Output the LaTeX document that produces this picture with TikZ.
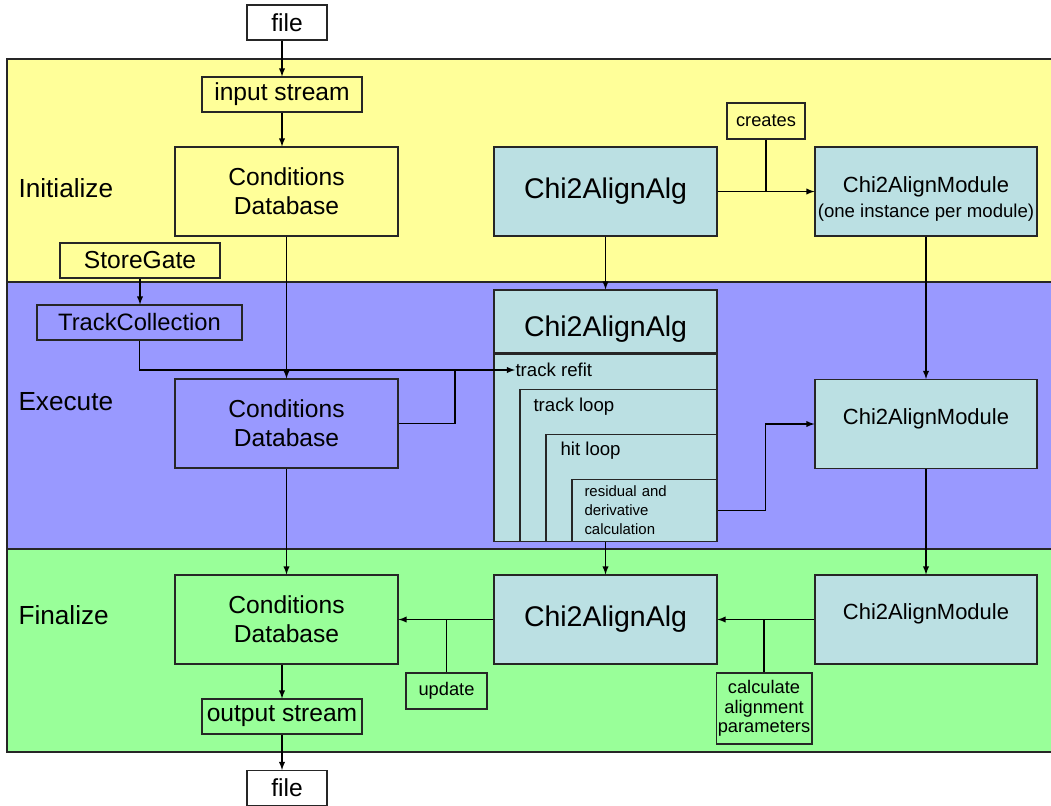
\documentclass[tikz,border=0pt]{standalone}
\usepackage{fontspec}
\setmainfont{Liberation Sans}
\usetikzlibrary{positioning}
\definecolor{initband}{HTML}{FFFF99}
\definecolor{execband}{HTML}{9999FF}
\definecolor{finband}{HTML}{99FF99}
\definecolor{algblue}{HTML}{BBE0E3}
\definecolor{edgegray}{HTML}{262626}

\begin{document}
\begin{tikzpicture}[>=latex, line width=0.6pt]
	\tikzstyle{band}=[draw=edgegray, line width=0.6pt]
	\tikzstyle{box}=[rectangle, draw=edgegray, line width=0.6pt, inner sep=1pt, align=center]
	\tikzstyle{bigbox}=[box, minimum width=4.46cm, minimum height=1.78cm,
	font=\fontsize{14}{16.4}\selectfont]
	\tikzstyle{smallbox}=[box, minimum width=3.2cm, minimum height=0.7cm,
	font=\fontsize{14}{16}\selectfont]
	\tikzstyle{notebox}=[box, font=\fontsize{10.4}{11.2}\selectfont]
	\tikzstyle{algbox}=[box, fill=algblue, minimum width=4.46cm,
	font=\fontsize{16.2}{19}\selectfont]
	\tikzstyle{modbox}=[box, fill=algblue, minimum width=4.44cm, minimum height=1.78cm,
	font=\fontsize{12.5}{14}\selectfont]
	\tikzstyle{looptext}=[anchor=west, inner sep=0pt, font=\fontsize{10.6}{12}\selectfont]
	\tikzstyle{phase}=[anchor=west, inner sep=0pt, font=\fontsize{14.9}{17}\selectfont]

	\useasboundingbox (0,0) rectangle (21.02,-16.1);
	\fill[white] (0,0) rectangle (21.02,-16.1);
	\draw[band, fill=initband] (0.14,-1.18) rectangle (21.3,-5.64);
	\draw[band, fill=execband] (0.14,-5.64) rectangle (21.3,-10.98);
	\draw[band, fill=finband] (0.14,-10.98) rectangle (21.3,-15.04);

	\node[phase] at (0.36,-3.76) (initlabel) {Initialize};
	\node[phase] at (0.36,-8.04) (execlabel) {Execute};
	\node[phase] at (0.36,-12.3) (finlabel) {Finalize};

	\node[smallbox, fill=white, minimum width=1.6cm] at (5.74,-0.45) (file1) {file};
	\node[smallbox, fill=initband] at (5.64,-1.89) (instream) {input stream};
	\node[bigbox, fill=initband] at (5.73,-3.83) (cdb1) {Conditions\\Database};
	\node[smallbox, fill=initband] at (2.8,-5.21) (storegate) {StoreGate};
	\node[algbox, minimum height=1.78cm] at (12.11,-3.83) (alg1) {Chi2AlignAlg};
	\node[notebox, fill=initband, minimum width=1.56cm, minimum height=0.72cm] at (15.32,-2.42) (creates) {creates};
	\node[modbox, text height=31.7pt] at (18.52,-3.83) (mod1) {Chi2AlignModule\\{\fontsize{10.6}{12}\selectfont(one instance per module)}};

	\node[smallbox, fill=execband, minimum width=4.1cm, font=\fontsize{13.5}{16}\selectfont] at (2.79,-6.45) (trackcoll) {TrackCollection};
	\node[bigbox, fill=execband] at (5.73,-8.47) (cdb2) {Conditions\\Database};
	\node[algbox, minimum height=1.26cm, text height=20.8pt, text depth=3.4pt] at (12.11,-6.43) (alg2) {Chi2AlignAlg};
	\node[box, fill=algblue, minimum width=4.46cm, minimum height=3.74cm, anchor=north] at (alg2.south) (alg2body) {};
	\node[looptext] at (10.3,-7.4) (refit) {track refit};
	\node[box, fill=algblue, minimum width=3.94cm, minimum height=3.04cm, anchor=south east] at (alg2body.south east) (trackloop) {};
	\node[looptext] at (10.66,-8.14) (trackloopname) {track loop};
	\node[box, fill=algblue, minimum width=3.42cm, minimum height=2.14cm, anchor=south east] at (alg2body.south east) (hitloop) {};
	\node[looptext] at (11.2,-9.02) (hitloopname) {hit loop};
	\node[box, fill=algblue, minimum width=2.9cm, minimum height=1.24cm, anchor=south east,
	text width=2.4cm, inner xsep=0.25cm, align=left, font=\fontsize{8.5}{10.8}\selectfont] at (alg2body.south east) (resid) {residual and\\derivative\\calculation};
	\node[modbox, text depth=9pt] at (18.52,-8.48) (mod2) {Chi2AlignModule};
	\coordinate (join) at ([xshift=-1.2cm]refit.west);

	\node[bigbox, fill=finband] at (5.73,-12.39) (cdb3) {Conditions\\Database};
	\node[algbox, minimum height=1.78cm] at (12.11,-12.39) (alg3) {Chi2AlignAlg};
	\node[modbox, text depth=9pt] at (18.52,-12.39) (mod3) {Chi2AlignModule};
	\node[notebox, fill=finband, minimum width=1.62cm, minimum height=0.72cm] at (8.93,-13.82) (update) {update};
	\node[notebox, fill=finband, minimum width=1.84cm, minimum height=1.42cm] at (15.28,-14.17) (calc) {calculate\\alignment\\parameters};
	\node[smallbox, fill=finband] at (5.64,-14.33) (outstream) {output stream};
	\node[smallbox, fill=white, minimum width=1.6cm] at (5.74,-15.76) (file2) {file};

	\draw[->] (file1.south -| instream) -- (instream.north);
	\draw[->] (instream) -- (instream |- cdb1.north);
	\draw[->] (cdb1) -- (cdb2);
	\draw[->] (cdb2) -- (cdb3);
	\draw[->] (cdb3.south -| outstream) -- (outstream.north);
	\draw[->] (outstream) -- (outstream |- file2.north);

	\draw[->] (storegate) -- (storegate |- trackcoll.north);
	\draw[->] (trackcoll.south) |- (refit.west);
	\draw (cdb2.east) -| (join);

	\draw[->] (alg1) -- (mod1);
	\draw (creates) -- (creates |- alg1.east);
	\draw[->] (alg1) -- (alg2);
	\draw[->] (mod1) -- (mod2);
	\draw[->] (resid.east) -- ++(0.96,0) |- (mod2.west);
	\draw[->] (alg2body.south) -- (alg3.north);
	\draw[->] (mod2) -- (mod3);

	\draw[->] (mod3) -- (alg3);
	\draw (calc) -- (calc |- mod3.west);
	\draw[->] (alg3) -- (cdb3);
	\draw (update) -- (update |- alg3.west);
\end{tikzpicture}
\end{document}
